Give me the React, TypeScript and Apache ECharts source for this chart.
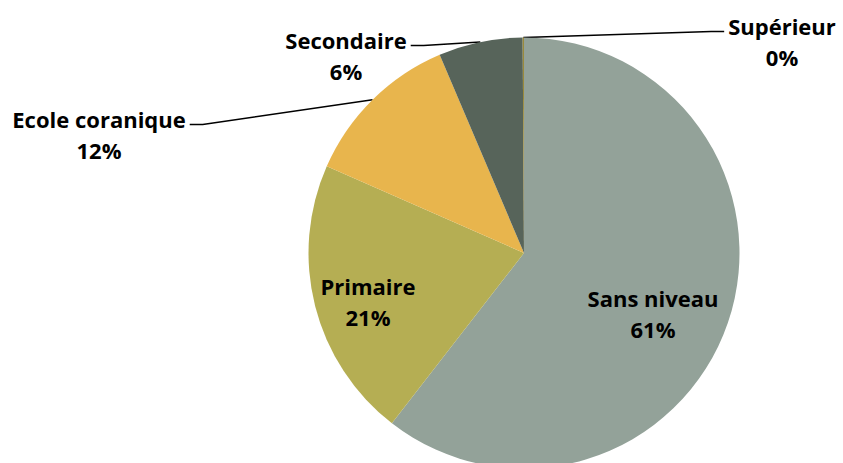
import React, { useEffect, useRef } from 'react';
import * as echarts from 'echarts';

const categories = ['Sans niveau', 'Primaire', 'Ecole coranique', 'Secondaire', 'Supérieur'];
const values = [60.5, 21.1, 12.0, 6.3, 0.1];
const colors = ['#93A299', '#B5AE53', '#E8B54D', '#57645A', '#9A8A3C'];
const insideLabels = [true, true, false, false, false];

const W = 843;
const H = 463;
const CX = 524;
const CY = 253;
const R = 215.5;
const labelCenters: [number, number][] = [
  [653, 313],
  [368, 301],
  [99, 134],
  [346, 55],
  [782, 41],
];
const FONT = 22;
const LH = 31;

export default function App() {
  const ref = useRef<HTMLDivElement>(null);
  useEffect(() => {
    document.body.style.margin = '0';
    const chart = echarts.init(ref.current!, null, { renderer: 'svg' });
    const total = values.reduce((a, b) => a + b, 0);
    const mids: number[] = [];
    let acc = 0;
    values.forEach((v) => {
      mids.push(acc + v / 2);
      acc += v;
    });
    const anchors = mids.map((c) => {
      const t = (c / total) * 2 * Math.PI;
      return [CX + R * Math.sin(t), CY - R * Math.cos(t)];
    });
    chart.setOption({
      animation: false,
      backgroundColor: '#ffffff',
      series: [
        {
          type: 'pie',
          center: [CX, CY],
          radius: R,
          startAngle: 90,
          clockwise: true,
          avoidLabelOverlap: false,
          percentPrecision: 0,
          label: {
            show: true,
            formatter: '{b}\n{d}%',
            color: '#000',
            fontFamily: 'Open Sans',
            fontWeight: 'bold',
            fontSize: FONT,
            lineHeight: LH,
            align: 'center',
          },
          labelLine: { show: true, smooth: false, lineStyle: { color: '#000', width: 1.5 } },
          emphasis: { disabled: true },
          data: categories.map((name, i) => ({
            name,
            value: values[i],
            itemStyle: { color: colors[i] },
            label: { position: insideLabels[i] ? 'inside' : 'outside' },
            labelLine: { show: !insideLabels[i] },
          })),
          labelLayout: (params: any) => {
            const i = params.dataIndex;
            const [x, y] = labelCenters[i];
            const out: any = { x, y, align: 'center', verticalAlign: 'middle' };
            if (!insideLabels[i]) {
              const w = params.labelRect.width;
              const toLeft = anchors[i][0] > x;
              const ex = toLeft ? x + w / 2 + 4 : x - w / 2 - 4;
              const ey = y - 9.5;
              const bx = toLeft ? ex + 13 : ex - 13;
              out.labelLinePoints = [anchors[i], [bx, ey], [ex, ey]];
            }
            return out;
          },
        },
      ],
    });
    return () => chart.dispose();
  }, []);
  return <div ref={ref} style={{ width: W, height: H }} />;
}
